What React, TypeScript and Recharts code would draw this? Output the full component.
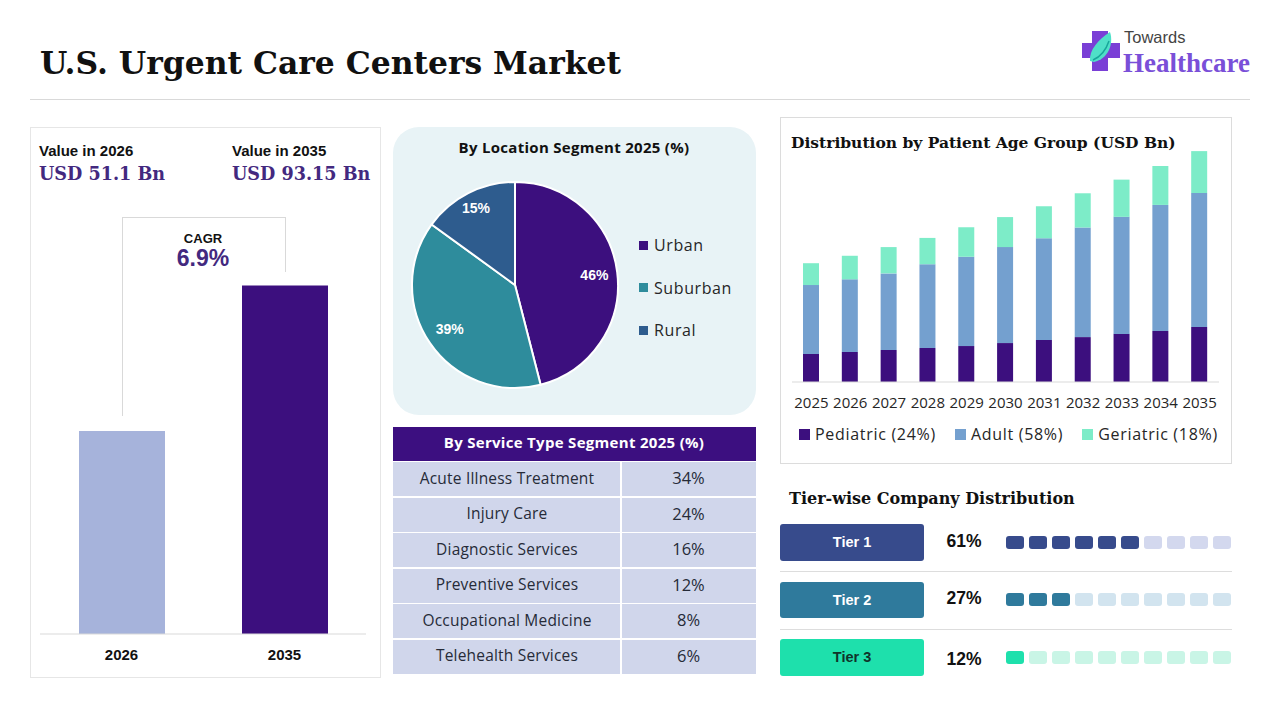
import { BarChart, Bar, XAxis, YAxis, PieChart, Pie, Cell, Legend } from 'recharts'

const SERIF = '"DejaVu Serif", serif'
const LOGO_SERIF = '"Liberation Serif", serif'
const SANS = '"Liberation Sans", sans-serif'
const OPEN = '"Open Sans", sans-serif'
const PURPLE = '#3c0f7e'

const marketYears = ['2026', '2035']
const marketHeights = [54.3, 93.15]
const marketColors = ['#a6b3db', PURPLE]

const locationNames = ['Urban', 'Suburban', 'Rural']
const locationShares = [46, 39, 15]
const locationColors = [PURPLE, '#2e8c9c', '#2e5c8e']
const locationLabelRadius = [80, 79, 86]

const serviceNames = [
  'Acute Illness Treatment',
  'Injury Care',
  'Diagnostic Services',
  'Preventive Services',
  'Occupational Medicine',
  'Telehealth Services',
]
const serviceShares = ['34%', '24%', '16%', '12%', '8%', '6%']

const years = ['2025', '2026', '2027', '2028', '2029', '2030', '2031', '2032', '2033', '2034', '2035']
const pediatric = [11.3, 12.1, 12.9, 13.7, 14.5, 15.7, 16.9, 18.1, 19.4, 20.6, 22.2]
const adult = [27.8, 29.3, 30.9, 33.8, 36.0, 38.7, 41.1, 44.2, 47.2, 50.8, 54.0]
const geriatric = [8.8, 9.5, 10.6, 10.6, 11.9, 12.1, 12.9, 13.8, 15.0, 15.7, 16.9]
const ageLabels = ['Pediatric (24%)', 'Adult (58%)', 'Geriatric (18%)']
const ageColors = [PURPLE, '#74a0cf', '#7decc8']

const tierNames = ['Tier 1', 'Tier 2', 'Tier 3']
const tierShares = ['61%', '27%', '12%']
const tierFilled = [6, 3, 1]
const tierColors = ['#374b8c', '#2f7a9c', '#1ee0ac']
const tierTracks = ['#d3d8ee', '#d2e4ef', '#c9f5e6']
const tierTextColors = ['#ffffff', '#ffffff', '#10332a']
const tierBoxTops = [524, 582, 639]
const tierBoxHeights = [37, 36, 37]
const tierPctTops = [541, 598, 659]
const tierPipTops = [536, 593, 651]
const pipSlots = [1, 2, 3, 4, 5, 6, 7, 8, 9, 10]

const marketData = marketYears.map((year, i) => ({ year, value: marketHeights[i] }))
const locationData = locationNames.map((name, i) => ({ name, value: locationShares[i] }))
const ageData = years.map((year, i) => ({
  year,
  pediatric: pediatric[i],
  adult: adult[i],
  geriatric: geriatric[i],
}))
const pipData = pipSlots.map((slot) => ({ slot, value: 1 }))

function Txt({ x, y, children, style }: any) {
  return (
    <div style={{ position: 'absolute', left: x, top: y, transform: 'translateY(-50%)', whiteSpace: 'nowrap', ...style }}>
      {children}
    </div>
  )
}

function CenterTxt({ x, y, children, style }: any) {
  return (
    <div style={{ position: 'absolute', left: x, top: y, transform: 'translate(-50%, -50%)', whiteSpace: 'nowrap', ...style }}>
      {children}
    </div>
  )
}

function Logo() {
  return (
    <svg style={{ position: 'absolute', left: 1080, top: 28 }} width={42} height={46}>
      <path d="M12 3 h16 v12 h12 v15 h-12 v13 h-16 v-13 h-10 v-15 h10 z" fill="#7a3fd6" />
      <path d="M10 33 C9 22 18 12 30 4 C34 16 28 31 14 34 z" fill="#4fe0c8" />
      <path d="M13 32 C20 29 26 22 29 13" stroke="#17a79a" strokeWidth={1.5} fill="none" />
    </svg>
  )
}

function locationLabel({ cx, cy, midAngle, index, value }: any) {
  const r = locationLabelRadius[index]
  const rad = (-midAngle * Math.PI) / 180
  return (
    <text
      x={cx + r * Math.cos(rad)}
      y={cy + r * Math.sin(rad)}
      fill="#ffffff"
      fontSize={14}
      fontWeight={700}
      fontFamily={SANS}
      textAnchor="middle"
      dominantBaseline="central"
    >
      {value}%
    </text>
  )
}

function LocationLegend() {
  return (
    <div>
      {locationNames.map((name, i) => (
        <div key={name} style={{ display: 'flex', alignItems: 'center', height: 42.5, fontFamily: OPEN, fontSize: 16, letterSpacing: 0.6, color: '#262626' }}>
          <span style={{ width: 9, height: 9, background: locationColors[i], marginRight: 6 }} />
          {name}
        </div>
      ))}
    </div>
  )
}

function AgeLegend() {
  const gaps = [0, 19, 19]
  return (
    <div style={{ display: 'flex', alignItems: 'center', height: 28, paddingLeft: 7, fontFamily: OPEN, fontSize: 16, letterSpacing: 0.7, color: '#262626' }}>
      {ageLabels.map((label, i) => (
        <span key={label} style={{ display: 'flex', alignItems: 'center', marginLeft: gaps[i], whiteSpace: 'nowrap' }}>
          <span style={{ width: 11, height: 11, background: ageColors[i], marginRight: 5 }} />
          {label}
        </span>
      ))}
    </div>
  )
}

export default function App() {
  return (
    <div style={{ position: 'absolute', left: 0, top: 0, width: 1280, height: 720, background: '#fff', overflow: 'hidden' }}>
      <Txt x={40} y={63} style={{ fontFamily: SERIF, fontWeight: 700, fontSize: 31.4, color: '#111' }}>
        U.S. Urgent Care Centers Market
      </Txt>
      <Logo />
      <Txt x={1124} y={37} style={{ fontFamily: SANS, fontSize: 16.5, color: '#444' }}>Towards</Txt>
      <Txt x={1123} y={63} style={{ fontFamily: LOGO_SERIF, fontWeight: 700, fontSize: 27, color: '#7a4fd8' }}>Healthcare</Txt>
      <div style={{ position: 'absolute', left: 30, top: 99, width: 1220, height: 1, background: '#d9d9d9' }} />

      {/* market size panel */}
      <div style={{ position: 'absolute', left: 30, top: 127, width: 349, height: 549, border: '1px solid #e6e6e6' }} />
      <Txt x={39} y={150} style={{ fontFamily: SANS, fontWeight: 700, fontSize: 15, color: '#111' }}>Value in 2026</Txt>
      <Txt x={232} y={150} style={{ fontFamily: SANS, fontWeight: 700, fontSize: 15, color: '#111' }}>Value in 2035</Txt>
      <Txt x={39} y={173} style={{ fontFamily: SERIF, fontWeight: 700, fontSize: 17.6, color: '#43297f' }}>USD 51.1 Bn</Txt>
      <Txt x={232} y={173} style={{ fontFamily: SERIF, fontWeight: 700, fontSize: 17.6, color: '#43297f' }}>USD 93.15 Bn</Txt>
      <div style={{ position: 'absolute', left: 122, top: 217, width: 163, height: 198, borderLeft: '1px solid #d9d9d9', borderTop: '1px solid #d9d9d9' }} />
      <div style={{ position: 'absolute', left: 285, top: 217, width: 1, height: 55, background: '#d9d9d9' }} />
      <CenterTxt x={203} y={238} style={{ fontFamily: SANS, fontWeight: 700, fontSize: 13, color: '#111' }}>CAGR</CenterTxt>
      <CenterTxt x={203} y={258} style={{ fontFamily: SANS, fontWeight: 700, fontSize: 23, color: '#43297f' }}>6.9%</CenterTxt>
      <div style={{ position: 'absolute', left: 39.5, top: 260 }}>
        <BarChart width={326} height={417} data={marketData} margin={{ top: 0, right: 0, bottom: 0, left: 0 }}>
          <XAxis
            dataKey="year"
            height={43}
            axisLine={{ stroke: '#d9d9d9' }}
            tickLine={false}
            tick={{ fontSize: 15, fontWeight: 700, fontFamily: SANS, fill: '#111' }}
            tickMargin={9}
          />
          <YAxis hide domain={[0, 100]} />
          <Bar dataKey="value" barSize={86} isAnimationActive={false}>
            {marketData.map((d, i) => (
              <Cell key={d.year} fill={marketColors[i]} />
            ))}
          </Bar>
        </BarChart>
      </div>

      {/* location pie */}
      <div style={{ position: 'absolute', left: 393, top: 127, width: 363, height: 288, borderRadius: 26, background: '#e8f3f6' }}>
        <PieChart width={363} height={288} margin={{ top: 0, right: 0, bottom: 0, left: 0 }}>
          <Pie
            data={locationData}
            dataKey="value"
            nameKey="name"
            cx={122}
            cy={158}
            outerRadius={103}
            startAngle={90}
            endAngle={-270}
            stroke="#ffffff"
            strokeWidth={2}
            label={locationLabel}
            labelLine={false}
            isAnimationActive={false}
          >
            {locationData.map((d, i) => (
              <Cell key={d.name} fill={locationColors[i]} />
            ))}
          </Pie>
          <Legend content={<LocationLegend />} wrapperStyle={{ position: 'absolute', left: 246, top: 97, width: 110, bottom: 'auto' }} />
        </PieChart>
      </div>
      <CenterTxt x={574} y={147} style={{ fontFamily: OPEN, fontWeight: 700, fontSize: 15, letterSpacing: 0.3, color: '#111' }}>
        By Location Segment 2025 (%)
      </CenterTxt>

      {/* service table */}
      <div style={{ position: 'absolute', left: 393, top: 427, width: 363, height: 34, background: '#3c0f80' }} />
      <CenterTxt x={574} y={442} style={{ fontFamily: OPEN, fontWeight: 700, fontSize: 15, letterSpacing: 0.3, color: '#fff' }}>
        By Service Type Segment 2025 (%)
      </CenterTxt>
      {serviceNames.map((name, i) => {
        const top = 462 + i * 35.5
        return (
          <div key={name}>
            <div style={{ position: 'absolute', left: 393, top, width: 227, height: 34, background: '#d0d6eb' }} />
            <div style={{ position: 'absolute', left: 622, top, width: 134, height: 34, background: '#d0d6eb' }} />
            <CenterTxt x={507} y={top + 15.5} style={{ fontFamily: OPEN, fontSize: 15.5, letterSpacing: 0.2, color: '#262b38' }}>{name}</CenterTxt>
            <CenterTxt x={688.5} y={top + 15} style={{ fontFamily: OPEN, fontSize: 16.5, color: '#262b38' }}>{serviceShares[i]}</CenterTxt>
          </div>
        )
      })}

      {/* age group stacked bars */}
      <div style={{ position: 'absolute', left: 780, top: 117, width: 450, height: 345, border: '1px solid #dcdcdc' }} />
      <Txt x={791} y={141.5} style={{ fontFamily: SERIF, fontWeight: 700, fontSize: 15.5, color: '#111' }}>
        Distribution by Patient Age Group (USD Bn)
      </Txt>
      <div style={{ position: 'absolute', left: 792, top: 134 }}>
        <BarChart width={427} height={316} data={ageData} margin={{ top: 0, right: 0, bottom: 0, left: 0 }}>
          <XAxis
            dataKey="year"
            height={38}
            interval={0}
            axisLine={{ stroke: '#d9d9d9' }}
            tickLine={false}
            tick={{ fontSize: 15, fontFamily: OPEN, fill: '#262626' }}
            tickMargin={9}
          />
          <YAxis hide domain={[0, 100]} />
          <Bar dataKey="pediatric" stackId="age" fill={ageColors[0]} barSize={16} isAnimationActive={false} />
          <Bar dataKey="adult" stackId="age" fill={ageColors[1]} barSize={16} isAnimationActive={false} />
          <Bar dataKey="geriatric" stackId="age" fill={ageColors[2]} barSize={16} isAnimationActive={false} />
          <Legend content={<AgeLegend />} height={30} verticalAlign="bottom" />
        </BarChart>
      </div>

      {/* tiers */}
      <Txt x={789} y={498} style={{ fontFamily: SERIF, fontWeight: 700, fontSize: 16, color: '#111' }}>
        Tier-wise Company Distribution
      </Txt>
      <div style={{ position: 'absolute', left: 780, top: 571, width: 452, height: 1, background: '#dddddd' }} />
      <div style={{ position: 'absolute', left: 780, top: 629, width: 452, height: 1, background: '#dddddd' }} />
      {tierNames.map((name, i) => (
        <div key={name}>
          <div style={{ position: 'absolute', left: 780, top: tierBoxTops[i], width: 144, height: tierBoxHeights[i], borderRadius: 3, background: tierColors[i] }} />
          <CenterTxt x={852} y={tierBoxTops[i] + 18} style={{ fontFamily: SANS, fontWeight: 700, fontSize: 14.5, color: tierTextColors[i] }}>
            {name}
          </CenterTxt>
          <CenterTxt x={964} y={tierPctTops[i]} style={{ fontFamily: SANS, fontWeight: 700, fontSize: 17.5, color: '#111' }}>
            {tierShares[i]}
          </CenterTxt>
          <div style={{ position: 'absolute', left: 1003, top: tierPipTops[i] }}>
            <BarChart width={230} height={13} data={pipData} margin={{ top: 0, right: 0, bottom: 0, left: 0 }}>
              <XAxis hide dataKey="slot" />
              <YAxis hide domain={[0, 1]} />
              <Bar dataKey="value" barSize={18} radius={3} isAnimationActive={false}>
                {pipData.map((d) => (
                  <Cell key={d.slot} fill={d.slot <= tierFilled[i] ? tierColors[i] : tierTracks[i]} />
                ))}
              </Bar>
            </BarChart>
          </div>
        </div>
      ))}
    </div>
  )
}
